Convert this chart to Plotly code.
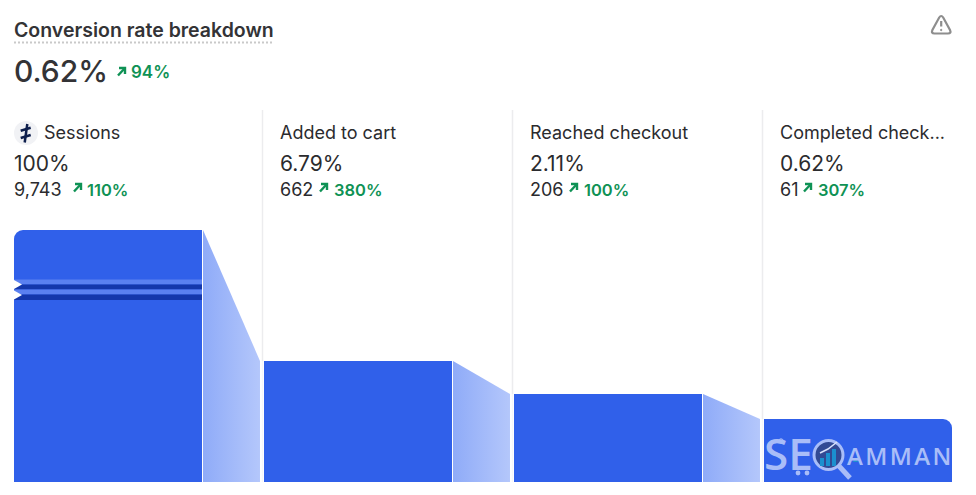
import plotly.graph_objects as go

stages = ["Sessions", "Added to cart", "Reached checkout", "Completed check..."]
rates = ["100%", "6.79%", "2.11%", "0.62%"]
counts = ["9,743", "662", "206", "61"]
changes = ["110%", "380%", "100%", "307%"]
# bar heights as displayed (the chart uses a broken, non-linear scale)
display_heights = [252, 121, 88, 63]
title = "Conversion rate breakdown"
overall_rate = "0.62%"
overall_change = "94%"

BLUE = "#3060ea"
GREEN = "#0f9255"
DARK = "#2b2b2e"
STEP = 250.0
BAR_W = 188 / STEP
CONN_A, CONN_B = 189 / STEP, 246 / STEP


def X(px):
    return (px - 14) / STEP


def Y(py):
    return 482 - py


def polygon(points):
    return "M" + " L".join(f"{X(a)},{Y(b)}" for a, b in points) + " Z"


fig = go.Figure()

# connectors
for i in range(3):
    fig.add_trace(go.Scatter(
        x=[i + CONN_A, i + CONN_B, i + CONN_B, i + CONN_A, i + CONN_A],
        y=[display_heights[i], display_heights[i + 1], 0, 0, display_heights[i]],
        mode="lines", line=dict(width=0), fill="toself",
        fillgradient=dict(type="horizontal",
                          colorscale=[[0, "#8fabf8"], [1, "#b4c7fb"]]),
        hoverinfo="skip", showlegend=False))

# square bars
fig.add_trace(go.Bar(x=[1, 2], y=[display_heights[1], display_heights[2]],
                     width=BAR_W, offset=0, marker=dict(color=BLUE, line_width=0),
                     hoverinfo="skip", showlegend=False))
# first and last bars, rounded on their outer top corner only
fig.add_trace(go.Bar(x=[0, 3], y=[display_heights[0], display_heights[3]],
                     width=BAR_W, offset=0,
                     marker=dict(color=BLUE, line_width=0, cornerradius=9),
                     hoverinfo="skip", showlegend=False))
fig.add_trace(go.Bar(x=[0, 3], y=[display_heights[0], display_heights[3]],
                     width=BAR_W / 2, offset=[BAR_W / 2, 0],
                     marker=dict(color=BLUE, line_width=0),
                     hoverinfo="skip", showlegend=False))

shapes = []


def rect(x0, y0, x1, y1, color):
    shapes.append(dict(type="rect", xref="x", yref="y", x0=X(x0), x1=X(x1), y0=Y(y0), y1=Y(y1),
                       fillcolor=color, line_width=0, layer="above"))


def path(points, fill=None, line=None, width=0, closed=True):
    d = polygon(points) if closed else "M" + " L".join(f"{X(a)},{Y(b)}" for a, b in points)
    shapes.append(dict(type="path", xref="x", yref="y", path=d,
                       fillcolor=fill or "rgba(0,0,0,0)",
                       line=dict(color=line or "rgba(0,0,0,0)", width=width), layer="above"))


def circle(cx, cy, r, fill=None, line=None, width=0):
    shapes.append(dict(type="circle", xref="x", yref="y",
                       x0=X(cx - r), x1=X(cx + r), y0=Y(cy + r), y1=Y(cy - r),
                       fillcolor=fill or "rgba(0,0,0,0)",
                       line=dict(color=line or "rgba(0,0,0,0)", width=width), layer="above"))


def arrow(x, y):
    """Small up-right arrow icon with top-left corner at (x, y)."""
    path([(x + 1, y + 8.5), (x + 8, y + 1)], line=GREEN, width=2.4, closed=False)
    path([(x + 2, y + 1), (x + 8, y + 1), (x + 8, y + 7)], line=GREEN, width=2.4, closed=False)


# separators: solid above the funnel, paler beside it
for i, px in enumerate((262.5, 512.5, 762.5)):
    split = 482 - display_heights[i + 1]
    shapes.append(dict(type="line", xref="x", yref="y", x0=X(px), x1=X(px), y0=Y(110), y1=Y(split),
                       line=dict(color="#ececee", width=1.5), layer="below"))
    shapes.append(dict(type="line", xref="x", yref="y", x0=X(px), x1=X(px), y0=Y(split), y1=Y(482),
                       line=dict(color="#f5f6fb", width=1.5), layer="below"))

# axis break on the first bar
rect(14, 279.5, 202, 284.5, "#5a80f0")
rect(14, 284.5, 202, 289.5, "#1437ab")
rect(14, 289.5, 202, 294.5, "#5a80f0")
rect(14, 294.5, 202, 300, "#1437ab")
path([(14, 280), (22, 284.5), (14, 289)], fill="white")
path([(14, 290.5), (22, 295), (14, 299.5)], fill="white")

# title underline
shapes.append(dict(type="line", xref="x", yref="y", x0=X(14), x1=X(273), y0=Y(42.5), y1=Y(42.5),
                   line=dict(color="#c9c9c9", width=2, dash="2px,2px"), layer="above"))

# warning icon (rounded triangle)
GRAY = "#8e8e8e"
tri = (f"M{X(939.2)},{Y(17.5)} Q{X(941.2)},{Y(14.5)} {X(943.2)},{Y(17.5)} "
       f"L{X(950)},{Y(30)} Q{X(951.5)},{Y(33.5)} {X(948)},{Y(33.5)} "
       f"L{X(934.4)},{Y(33.5)} Q{X(931)},{Y(33.5)} {X(932.4)},{Y(30)} Z")
shapes.append(dict(type="path", xref="x", yref="y", path=tri, fillcolor="rgba(0,0,0,0)",
                   line=dict(color=GRAY, width=2.2), layer="above"))
path([(941.2, 21), (941.2, 26.5)], line=GRAY, width=2.2, closed=False)
circle(941.2, 30, 0.7, fill=GRAY, line=GRAY, width=1)

# sessions icon
circle(26, 133, 12, fill="#f1f2f5")
NAVY = "#0e1f4d"
path([(20.7, 130.7), (30.7, 127.7)], line=NAVY, width=2.5, closed=False)
path([(20.7, 138), (30.7, 135)], line=NAVY, width=2.5, closed=False)
path([(27.3, 124), (24.7, 142.5)], line=NAVY, width=2.5, closed=False)

# trend arrows
arrow(117, 67)
for ax in (73, 319, 569, 803):
    arrow(ax, 183)

# watermark
WM = "#a9bdf8"
circle(828.5, 455, 14.5, fill="#324a94", line=WM, width=3)
path([(839, 466), (850, 478)], line=WM, width=5, closed=False)
for a, top in zip((820, 826, 832), (458, 453, 449)):
    rect(a, top, a + 4, 466, "#1b90cf")
path([(820, 453), (828, 449), (837, 442)], line="#d8e2fb", width=1.5, closed=False)
circle(798, 473, 2.4, fill=WM)
circle(807, 473, 2.4, fill=WM)
circle(781, 441, 2.2, line=WM, width=1)
path([(853, 462), (855.5, 458), (858, 462)], fill="#1b90cf")
path([(925, 462), (927.5, 458), (930, 462)], fill="#1b90cf")

annots = []


def text(px, py, s, size, color=DARK, weight=400, anchor="left", family="Inter"):
    annots.append(dict(x=X(px), y=Y(py), xref="x", yref="y", text=s, showarrow=False,
                       xanchor=anchor, yanchor="middle", borderpad=0, borderwidth=0,
                       font=dict(family=family, size=size, color=color, weight=weight)))


text(14, 29.5, title, 19.5, color="#333336", weight=600)
text(14, 71, overall_rate, 30, color="#333336", weight=500)
text(131, 72, overall_change, 17, color=GREEN, weight=600)

cols = [14, 280, 530, 780]
name_x = [44, 280, 530, 780]
chg_x = [87, 334, 584, 818]
for i in range(4):
    text(name_x[i], 132.5, stages[i], 18)
    text(cols[i], 163, rates[i], 21)
    text(cols[i], 189.5, counts[i], 18)
    text(chg_x[i], 189.5, changes[i], 16.5, color=GREEN, weight=600)

text(764, 453, "SE", 44, color=WM, weight=600, family="Open Sans")
text(847, 455, "\u200a".join("AMMAN"), 24, color=WM, weight=600, family="Open Sans")

fig.update_layout(
    width=976, height=495, margin=dict(l=0, r=0, t=0, b=13),
    paper_bgcolor="white", plot_bgcolor="white", barmode="overlay",
    xaxis=dict(range=[X(0), X(976)], visible=False, fixedrange=True),
    yaxis=dict(range=[0, 482], visible=False, fixedrange=True),
    shapes=shapes, annotations=annots, showlegend=False,
)
fig.write_html("out.html", config={"displayModeBar": False},
               post_script="document.body.style.margin='0';document.body.style.overflow='hidden';")
